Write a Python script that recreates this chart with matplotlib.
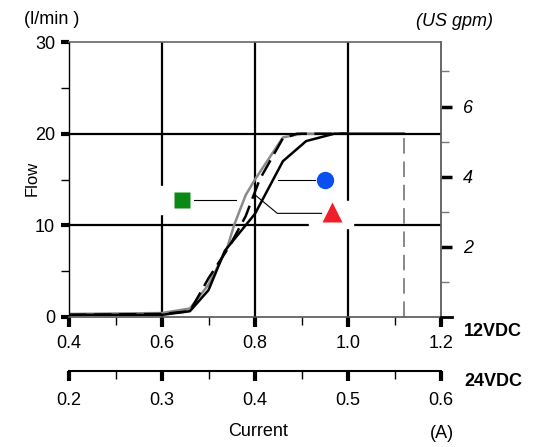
import matplotlib
matplotlib.use("Agg")
import matplotlib.pyplot as plt
from matplotlib.patches import Rectangle

plt.rcParams['font.family'] = ['Liberation Sans', 'DejaVu Sans']

# flow (l/min) vs coil current at 12VDC (A), three samples
grey_x = [0.40, 0.60, 0.66, 0.70, 0.74, 0.755, 0.78, 0.80, 0.86, 0.90, 1.00]
grey_y = [0.3, 0.4, 0.9, 3.5, 7.5, 10.0, 13.3, 15.0, 19.6, 20.0, 20.0]
dash_x = [0.40, 0.60, 0.66, 0.70, 0.745, 0.78, 0.81, 0.86, 0.89, 1.00]
dash_y = [0.2, 0.3, 0.6, 4.2, 7.7, 11.0, 15.0, 19.5, 20.0, 20.0]
black_x = [0.40, 0.60, 0.66, 0.70, 0.735, 0.80, 0.86, 0.91, 0.97, 1.12]
black_y = [0.2, 0.2, 0.6, 2.9, 7.2, 11.25, 17.0, 19.2, 20.0, 20.0]
max_current = 1.12
max_flow = 20

x_ticks = [0.4, 0.6, 0.8, 1.0, 1.2]
x_minor = [0.5, 0.7, 0.9, 1.1]
x24_ticks = [0.2, 0.3, 0.4, 0.5, 0.6]
x24_minor = [0.25, 0.35, 0.45, 0.55]
y_ticks = [0, 10, 20, 30]
y_minor = [5, 15, 25]
gpm_ticks = [2, 4, 6]
gpm_minor = [1, 3, 5, 7]
grid_x = [0.6, 0.8, 1.0]
grid_y = [10, 20]
L_PER_GAL = 3.83

# symbol legend: marker position, leader line
sq_pos = (0.644, 12.8)
sq_lead = ([0.668, 0.76], [12.8, 12.8])
ci_pos = (0.95, 14.9)
ci_lead = ([0.85, 0.93], [14.9, 14.9])
tr_pos = (0.965, 11.4)
tr_lead = ([0.798, 0.848, 0.943], [13.4, 11.3, 11.3])

W, H = 545, 447
fig = plt.figure(figsize=(W / 100, H / 100), dpi=100)
ax = fig.add_axes([69 / W, 1 - 316.7 / H, (441 - 69) / W, (316.7 - 42.3) / H])
ax.set_xlim(0.4, 1.2)
ax.set_ylim(0, 30)

for gx in grid_x:
    ax.axvline(gx, color='black', lw=1.6, zorder=1)
for gy in grid_y:
    ax.axhline(gy, color='black', lw=1.6, zorder=1)

# white patches behind the symbols (they break the grid)
ax.add_patch(Rectangle((0.595, 11.2), 0.075, 3.1, color='white', zorder=1.5))
ax.add_patch(Rectangle((0.917, 9.7), 0.094, 3.0, color='white', zorder=1.5))

ax.plot([max_current, max_current], [0, max_flow], color='#888888', lw=1.4,
        dashes=(8, 4), zorder=1.8)
ax.plot(grey_x, grey_y, color='#8a8a8a', lw=1.8, zorder=2)
ax.plot(dash_x, dash_y, color='black', lw=1.8, dashes=(7, 3), zorder=2.1)
ax.plot(black_x, black_y, color='black', lw=1.8, zorder=2.2)

ax.plot(*sq_lead, color='black', lw=0.8, zorder=3)
ax.plot(*ci_lead, color='black', lw=0.8, zorder=3)
ax.plot(*tr_lead, color='black', lw=0.8, zorder=3)
ax.plot(*sq_pos, marker='s', ms=11.5, color='#0a8a12', mec='none', zorder=4)
ax.plot(*ci_pos, marker='o', ms=12.5, color='#0a4ff0', mec='none', zorder=4)
ax.plot(*tr_pos, marker='^', ms=14, color='#f01e28', mec='none', zorder=4)

for s in ['top', 'right']:
    ax.spines[s].set_color('#666666')
    ax.spines[s].set_linewidth(1.2)
ax.spines['left'].set_linewidth(1.0)
ax.spines['bottom'].set_color('#555555')
ax.spines['bottom'].set_linewidth(1.2)
ax.plot([1.0, 1.03], [0, 0], transform=ax.transAxes, color='black', lw=2,
        clip_on=False, zorder=5)

ax.set_xticks(x_ticks)
ax.set_xticklabels([f'{v:.1f}' for v in x_ticks])
ax.set_xticks(x_minor, minor=True)
ax.set_yticks(y_ticks)
ax.set_yticklabels([str(v) for v in y_ticks])
ax.set_yticks(y_minor, minor=True)
ax.tick_params(axis='x', which='major', length=7, width=3, labelsize=13, pad=6)
ax.tick_params(axis='x', which='minor', length=6, width=1)
ax.tick_params(axis='y', which='major', length=6, width=3, labelsize=13, pad=4)
ax.tick_params(axis='y', which='minor', length=6, width=1)

# right axis in US gpm
sec = ax.secondary_yaxis('right', functions=(lambda v: v / L_PER_GAL,
                                             lambda v: v * L_PER_GAL))
sec.set_yticks(gpm_ticks)
sec.set_yticklabels([str(v) for v in gpm_ticks], fontstyle='italic')
sec.set_yticks(gpm_minor, minor=True)
sec.spines['right'].set_color('#666666')
sec.spines['right'].set_linewidth(1.2)
sec.tick_params(which='major', length=8, width=2.5, labelsize=13, pad=8)
sec.tick_params(which='minor', length=6, width=1, color='#777777')

# second current scale for 24VDC
sx = ax.secondary_xaxis(-0.198, functions=(lambda v: v / 2, lambda v: v * 2))
sx.set_xticks(x24_ticks)
sx.set_xticklabels([f'{v:.1f}' for v in x24_ticks])
sx.set_xticks(x24_minor, minor=True)
sx.spines['bottom'].set_linewidth(1.5)
sx.tick_params(which='major', length=7, width=3, labelsize=13, pad=8)
sx.tick_params(which='minor', length=6, width=1)

fig.text(52 / W, 1 - 20 / H, '(l/min )', ha='center', va='center', fontsize=13)
fig.text(455 / W, 1 - 22 / H, '(US gpm)', ha='center', va='center',
         fontsize=13, fontstyle='italic')
fig.text(32 / W, 1 - 178 / H, 'Flow', ha='center', va='center', fontsize=12,
         rotation=90)
fig.text(258 / W, 1 - 432 / H, 'Current', ha='center', va='center', fontsize=13)
fig.text(442 / W, 1 - 433 / H, '(A)', ha='center', va='center', fontsize=13)
fig.text(493 / W, 1 - 332 / H, '12VDC', ha='center', va='center', fontsize=13,
         fontweight='bold')
fig.text(493 / W, 1 - 382 / H, '24VDC', ha='center', va='center', fontsize=13,
         fontweight='bold')

fig.savefig('out.png', dpi=100)
